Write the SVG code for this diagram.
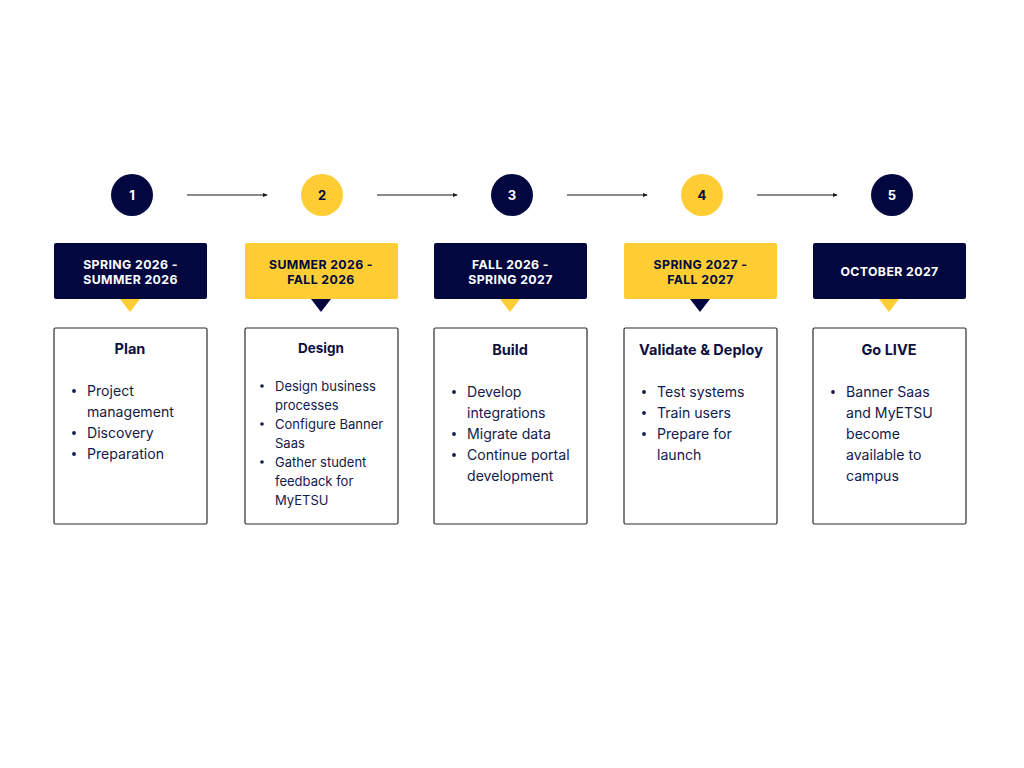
<svg xmlns="http://www.w3.org/2000/svg" width="1024" height="768" viewBox="0 0 1024 768">
<defs>
<style>
.navy{fill:#02073f}
.yel{fill:#fecd34}
.num{font-family:Inter,"Liberation Sans",sans-serif;font-weight:700;font-size:13px;text-anchor:middle}
.date{font-family:Inter,"Liberation Sans",sans-serif;font-weight:700;font-size:12.3px;text-anchor:middle;letter-spacing:0.4px}
.card{fill:#fff;stroke:#2b2b2b;stroke-width:1.2}
.title{font-family:Inter,"Liberation Sans",sans-serif;font-weight:700;font-size:14.5px;text-anchor:middle;fill:#0c0f3f}
.b{font-family:Inter,"Liberation Sans",sans-serif;font-size:14.1px;fill:#141a4a}
.bs{font-family:Inter,"Liberation Sans",sans-serif;font-size:13px;fill:#141a4a}
.dot{fill:#141a4a}
.conn{stroke:#1a1a1a;stroke-width:1.2;fill:none;marker-end:url(#ah)}
</style>
<marker id="ah" viewBox="0 0 6 6" refX="5" refY="3" markerWidth="4" markerHeight="4" orient="auto" markerUnits="strokeWidth"><path d="M0,0.5 L6,3 L0,5.5 z" fill="#1a1a1a"/></marker>
</defs>
<rect width="1024" height="768" fill="#fff"/>
<g id="connectors">
<line class="conn" x1="187" y1="195" x2="267" y2="195"/>
<line class="conn" x1="377" y1="195" x2="457" y2="195"/>
<line class="conn" x1="567" y1="195" x2="647" y2="195"/>
<line class="conn" x1="757" y1="195" x2="837" y2="195"/>
</g>
<g id="step1">
<circle class="navy" cx="132" cy="195" r="21"/>
<text class="num" x="132" y="200" fill="#fff">1</text>
<rect class="navy" x="54" y="243" width="153" height="56" rx="2"/>
<text class="date" x="130.5" y="268.5" fill="#fff">SPRING 2026 -</text>
<text class="date" x="130.5" y="284" fill="#fff">SUMMER 2026</text>
<polygon class="yel" points="120,299 140,299 130,312"/>
<rect class="card" x="54" y="328" width="153" height="196" rx="1.5"/>
<text class="title" x="130" y="354">Plan</text>
<circle class="dot" cx="74" cy="391" r="1.9"/>
<text class="b" x="87" y="396">Project</text>
<text class="b" x="87" y="417">management</text>
<circle class="dot" cx="74" cy="433" r="1.9"/>
<text class="b" x="87" y="438">Discovery</text>
<circle class="dot" cx="74" cy="454" r="1.9"/>
<text class="b" x="87" y="459">Preparation</text>
</g>
<g id="step2">
<circle class="yel" cx="322" cy="195" r="21"/>
<text class="num" x="322" y="200" fill="#02073f">2</text>
<rect class="yel" x="245" y="243" width="153" height="56" rx="2"/>
<text class="date" x="321" y="268.5" fill="#02073f">SUMMER 2026 -</text>
<text class="date" x="321" y="284" fill="#02073f">FALL 2026</text>
<polygon class="navy" points="311,299 331,299 321,312"/>
<rect class="card" x="245" y="328" width="153" height="196" rx="1.5"/>
<text class="title" x="321" y="353" style="font-size:13.5px">Design</text>
<circle class="dot" cx="262" cy="386" r="1.8"/>
<text class="bs" x="275" y="390.5">Design business</text>
<text class="bs" x="275" y="409.5">processes</text>
<circle class="dot" cx="262" cy="424" r="1.8"/>
<text class="bs" x="275" y="428.5">Configure Banner</text>
<text class="bs" x="275" y="447.5">Saas</text>
<circle class="dot" cx="262" cy="462" r="1.8"/>
<text class="bs" x="275" y="466.5">Gather student</text>
<text class="bs" x="275" y="485.5">feedback for</text>
<text class="bs" x="275" y="504.5">MyETSU</text>
</g>
<g id="step3">
<circle class="navy" cx="512" cy="195" r="21"/>
<text class="num" x="512" y="200" fill="#fff">3</text>
<rect class="navy" x="434" y="243" width="153" height="56" rx="2"/>
<text class="date" x="510.5" y="268.5" fill="#fff">FALL 2026 -</text>
<text class="date" x="510.5" y="284" fill="#fff">SPRING 2027</text>
<polygon class="yel" points="500,299 520,299 510,312"/>
<rect class="card" x="434" y="328" width="153" height="196" rx="1.5"/>
<text class="title" x="510" y="355">Build</text>
<circle class="dot" cx="454" cy="392" r="1.9"/>
<text class="b" x="467" y="397">Develop</text>
<text class="b" x="467" y="418">integrations</text>
<circle class="dot" cx="454" cy="434" r="1.9"/>
<text class="b" x="467" y="439">Migrate data</text>
<circle class="dot" cx="454" cy="455" r="1.9"/>
<text class="b" x="467" y="460">Continue portal</text>
<text class="b" x="467" y="481">development</text>
</g>
<g id="step4">
<circle class="yel" cx="702" cy="195" r="21"/>
<text class="num" x="702" y="200" fill="#02073f">4</text>
<rect class="yel" x="624" y="243" width="153" height="56" rx="2"/>
<text class="date" x="700.5" y="268.5" fill="#02073f">SPRING 2027 -</text>
<text class="date" x="700.5" y="284" fill="#02073f">FALL 2027</text>
<polygon class="navy" points="690,299 710,299 700,312"/>
<rect class="card" x="624" y="328" width="153" height="196" rx="1.5"/>
<text class="title" x="701" y="355">Validate &amp; Deploy</text>
<circle class="dot" cx="644" cy="392" r="1.9"/>
<text class="b" x="657" y="397">Test systems</text>
<circle class="dot" cx="644" cy="413" r="1.9"/>
<text class="b" x="657" y="418">Train users</text>
<circle class="dot" cx="644" cy="434" r="1.9"/>
<text class="b" x="657" y="439">Prepare for</text>
<text class="b" x="657" y="460">launch</text>
</g>
<g id="step5">
<circle class="navy" cx="892" cy="195" r="21"/>
<text class="num" x="892" y="200" fill="#fff">5</text>
<rect class="navy" x="813" y="243" width="153" height="56" rx="2"/>
<text class="date" x="889.5" y="275.5" fill="#fff">OCTOBER 2027</text>
<polygon class="yel" points="879,299 899,299 889,312"/>
<rect class="card" x="813" y="328" width="153" height="196" rx="1.5"/>
<text class="title" x="889" y="355">Go LIVE</text>
<circle class="dot" cx="833" cy="392" r="1.9"/>
<text class="b" x="846" y="397">Banner Saas</text>
<text class="b" x="846" y="418">and MyETSU</text>
<text class="b" x="846" y="439">become</text>
<text class="b" x="846" y="460">available to</text>
<text class="b" x="846" y="481">campus</text>
</g>
</svg>
